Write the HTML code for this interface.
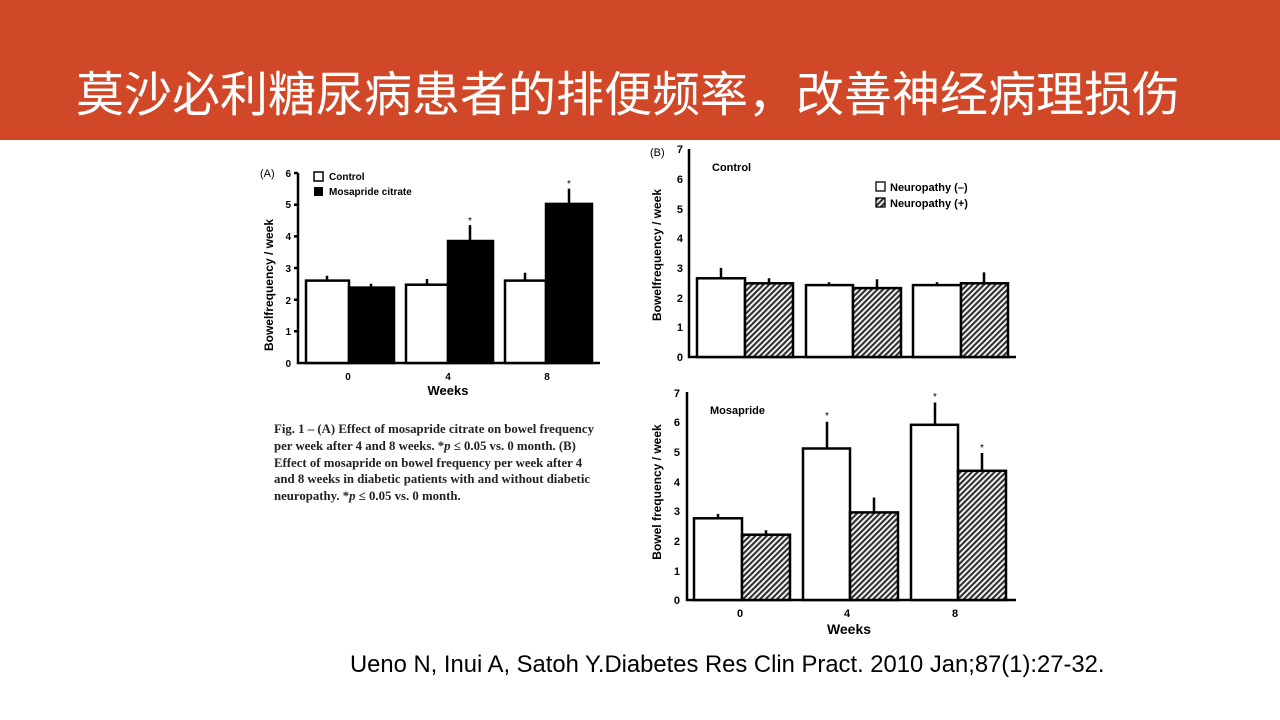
<!DOCTYPE html>
<html><head><meta charset="utf-8"><style>
body{margin:0;width:1280px;height:720px;background:#fff;overflow:hidden;position:relative;font-family:"Liberation Sans",sans-serif}
.hdr{position:absolute;left:0;top:0;width:1280px;height:140px;background:#D04827}
.ttl{position:absolute;left:76px;top:65px;white-space:nowrap;color:#fff;font-size:48px;font-family:"Liberation Sans","Noto Sans CJK SC",sans-serif;line-height:62px}
.cap{position:absolute;left:274px;top:421px;width:345px;font-family:"Liberation Serif",serif;font-weight:bold;font-size:12.8px;line-height:16.8px;color:#222;white-space:nowrap}
.cit{position:absolute;left:350px;top:651px;font-size:23.8px;color:#000;white-space:nowrap}
</style></head><body>
<div class="hdr"></div>
<div class="ttl">莫沙必利糖尿病患者的排便频率，改善神经病理损伤</div>
<svg width="1280" height="720" style="position:absolute;left:0;top:0" font-family="Liberation Sans, sans-serif" font-weight="bold">
<defs><pattern id="h" width="4" height="4" patternUnits="userSpaceOnUse" patternTransform="rotate(45)"><rect width="4" height="4" fill="#fff"/><rect width="2.2" height="4" fill="#333"/></pattern></defs>
<g stroke="#000" stroke-width="2.5" fill="none">
<path d="M298,173 V363 H600"/>
<path d="M294,173H298M294,204.7H298M294,236.4H298M294,268H298M294,299.8H298M294,331.3H298"/>
</g>
<g font-size="10" text-anchor="end"><text x="291" y="177">6</text><text x="291" y="208">5</text><text x="291" y="240">4</text><text x="291" y="272">3</text><text x="291" y="304">2</text><text x="291" y="335">1</text><text x="291" y="367">0</text></g>
<text x="260" y="177" font-size="11" font-weight="normal">(A)</text>
<text x="273" y="285" font-size="12" text-anchor="middle" transform="rotate(-90 273 285)">Bowelfrequency / week</text>
<g font-size="10" text-anchor="middle"><text x="348" y="380">0</text><text x="448" y="380">4</text><text x="547" y="380">8</text></g>
<text x="448" y="395" font-size="13" text-anchor="middle">Weeks</text>
<rect x="314" y="172" width="9" height="9" fill="#fff" stroke="#000" stroke-width="1.5"/><text x="329" y="180" font-size="10">Control</text>
<rect x="314" y="187" width="9" height="9" fill="#000"/><text x="329" y="195" font-size="10">Mosapride citrate</text>
<g stroke="#000" stroke-width="2.5">
<path d="M327,280.6V275.8M371,287.6V283.8M427,284.7V279M470,241V225.1M525,280.6V272.7M569,203.9V188.6"/>
<rect x="306" y="280.6" width="43" height="82.4" fill="#fff"/>
<rect x="349" y="287.6" width="45" height="75.4" fill="#000"/>
<rect x="406" y="284.7" width="42" height="78.3" fill="#fff"/>
<rect x="448" y="241" width="45" height="122" fill="#000"/>
<rect x="505" y="280.6" width="41" height="82.4" fill="#fff"/>
<rect x="546" y="203.9" width="46" height="159.1" fill="#000"/>
</g>
<g font-size="10" font-weight="normal" text-anchor="middle"><text x="470" y="224">*</text><text x="569" y="187">*</text></g>
<g stroke="#000" stroke-width="2.5" fill="none"><path d="M689,149V357H1016"/></g>
<g font-size="11" text-anchor="end"><text x="683" y="153">7</text><text x="683" y="183">6</text><text x="683" y="213">5</text><text x="683" y="242">4</text><text x="683" y="272">3</text><text x="683" y="302">2</text><text x="683" y="331">1</text><text x="683" y="361">0</text></g>
<text x="650" y="156" font-size="11" font-weight="normal">(B)</text>
<text x="661" y="255" font-size="12" text-anchor="middle" transform="rotate(-90 661 255)">Bowelfrequency / week</text>
<text x="712" y="171" font-size="11">Control</text>
<rect x="876" y="182" width="9" height="9" fill="#fff" stroke="#000" stroke-width="1.3"/><text x="890" y="191" font-size="11">Neuropathy (–)</text>
<rect x="876" y="198" width="9" height="9" fill="url(#h)" stroke="#000" stroke-width="1.3"/><text x="890" y="207" font-size="11">Neuropathy (+)</text>
<g stroke="#000" stroke-width="2.5">
<path d="M721,278.3V267.9M769,283.3V278.3M829,285.1V282.2M877,288.1V279.2M937,285.1V282.2M984,283.3V272.4"/>
<rect x="697" y="278.3" width="48" height="78.7" fill="#fff"/>
<rect x="745" y="283.3" width="48" height="73.7" fill="url(#h)"/>
<rect x="806" y="285.1" width="47" height="71.9" fill="#fff"/>
<rect x="853" y="288.1" width="48" height="68.9" fill="url(#h)"/>
<rect x="913" y="285.1" width="48" height="71.9" fill="#fff"/>
<rect x="961" y="283.3" width="47" height="73.7" fill="url(#h)"/>
</g>
<g stroke="#000" stroke-width="2.5" fill="none"><path d="M687,392V600H1016"/></g>
<g font-size="11" text-anchor="end"><text x="680" y="397">7</text><text x="680" y="426">6</text><text x="680" y="456">5</text><text x="680" y="486">4</text><text x="680" y="515">3</text><text x="680" y="545">2</text><text x="680" y="575">1</text><text x="680" y="604">0</text></g>
<text x="661" y="492" font-size="12" text-anchor="middle" transform="rotate(-90 661 492)">Bowel frequency / week</text>
<text x="710" y="414" font-size="11">Mosapride</text>
<g stroke="#000" stroke-width="2.5">
<path d="M718,518.3V513.9M766,534.7V530.2M827,448.5V421.8M874,512.4V497.5M935,424.8V402.5M982,470.8V453"/>
<rect x="694" y="518.3" width="48" height="81.7" fill="#fff"/>
<rect x="742" y="534.7" width="48" height="65.3" fill="url(#h)"/>
<rect x="803" y="448.5" width="47" height="151.5" fill="#fff"/>
<rect x="850" y="512.4" width="48" height="87.6" fill="url(#h)"/>
<rect x="911" y="424.8" width="47" height="175.2" fill="#fff"/>
<rect x="958" y="470.8" width="48" height="129.2" fill="url(#h)"/>
</g>
<g font-size="10" font-weight="normal" text-anchor="middle"><text x="827" y="419">*</text><text x="935" y="400">*</text><text x="982" y="451">*</text></g>
<g font-size="11" text-anchor="middle"><text x="740" y="617">0</text><text x="847" y="617">4</text><text x="955" y="617">8</text></g>
<text x="849" y="634" font-size="14" text-anchor="middle">Weeks</text>
</svg>
<div class="cap">Fig. 1 – (A) Effect of mosapride citrate on bowel frequency<br>per week after 4 and 8 weeks. *<i>p</i> ≤ 0.05 vs. 0 month. (B)<br>Effect of mosapride on bowel frequency per week after 4<br>and 8 weeks in diabetic patients with and without diabetic<br>neuropathy. *<i>p</i> ≤ 0.05 vs. 0 month.</div>
<div class="cit">Ueno N, Inui A, Satoh Y.Diabetes Res Clin Pract. 2010 Jan;87(1):27-32.</div>
</body></html>
